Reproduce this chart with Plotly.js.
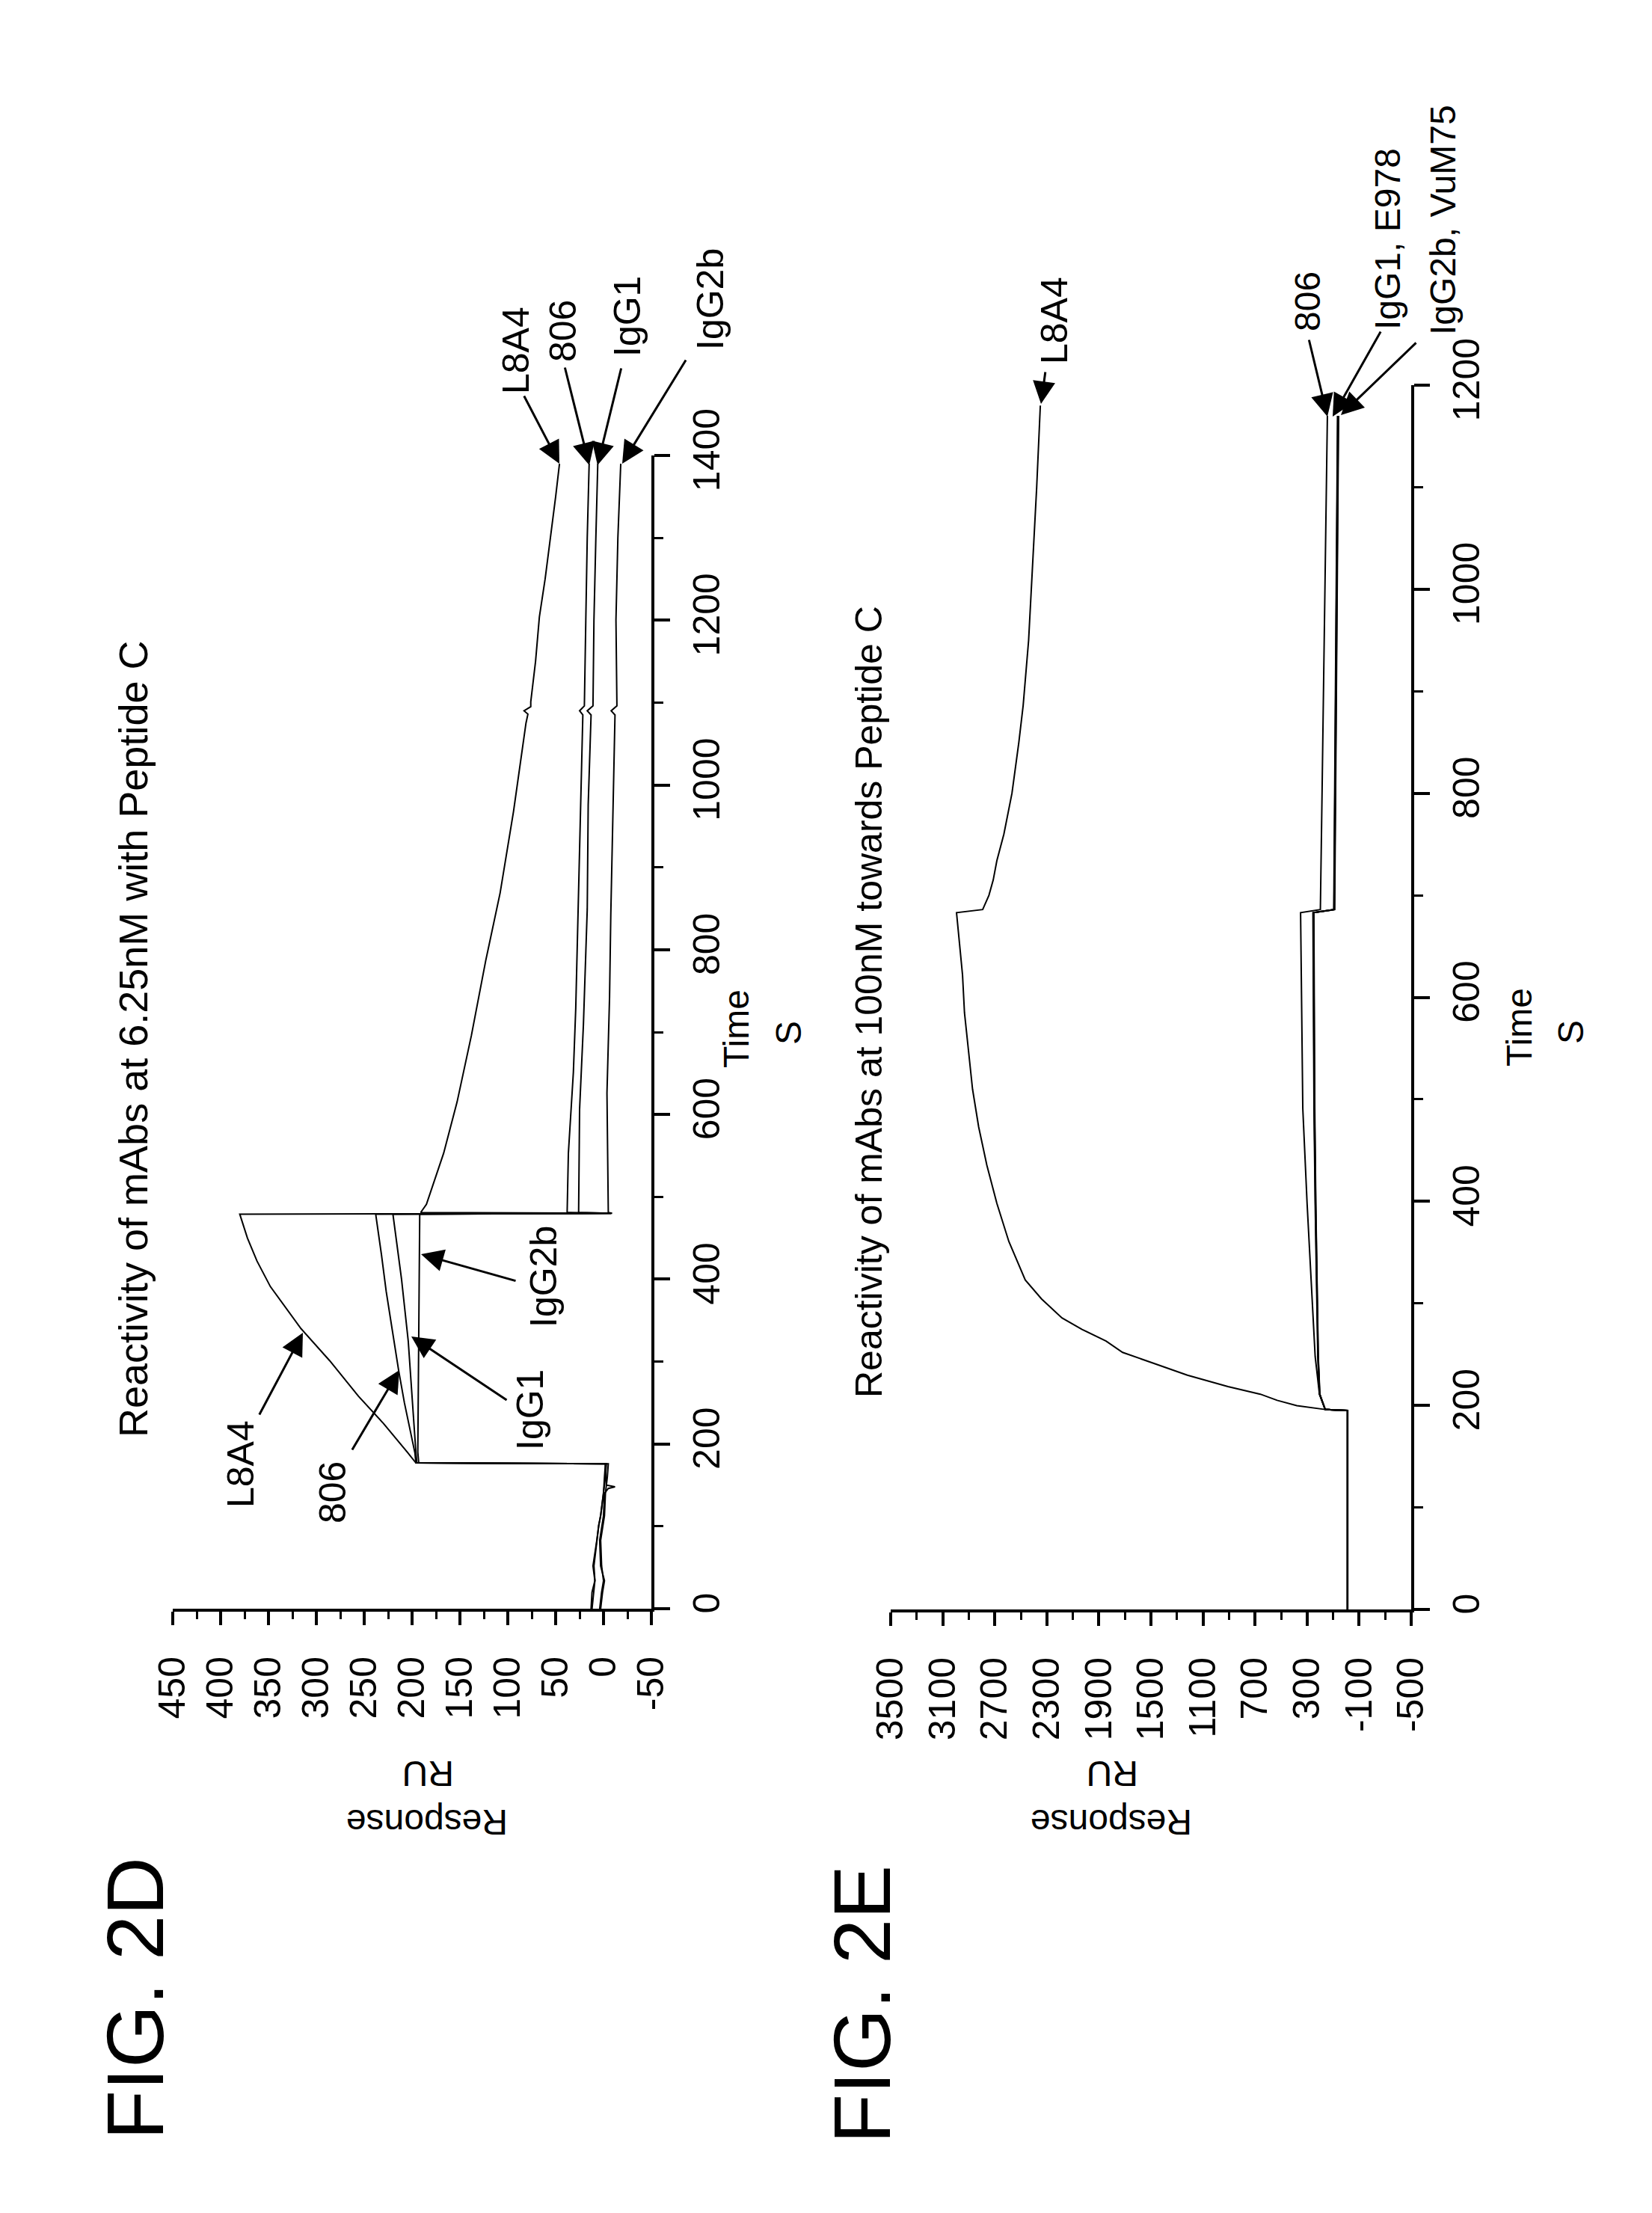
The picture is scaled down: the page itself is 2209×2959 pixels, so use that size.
<!DOCTYPE html>
<html><head><meta charset="utf-8">
<script src="https://cdn.plot.ly/plotly-3.0.1.min.js"></script>
<style>html,body{margin:0;padding:0;background:#fff;}#chart{width:2209px;height:2959px;}</style>
</head><body><div id="chart"></div>
<script>
// ---------- FIG. 2D : Reactivity of mAbs at 6.25nM with Peptide C ----------
const D_TIME_L8A4 = [0,20,34,52,83,101,113,140,160,176,177,190,225,258,301,340,391,422,450,479,480,481,491,553,615,696,787,869,968,1075,1086,1090,1095,1101,1150,1204,1250,1302,1350,1390];
const D_RU_L8A4   = [13,12,9,11,7,5,3,0,-1,-2,196,205,230,256,286,316,348,362,372,380,-8,191,185,167,153,138,123,108,94,81,79,83,76,76,71,67,61,55,50,46];
const D_TIME_806 = [0,20,34,52,83,101,113,140,160,176,177,189,250,289,340,385,430,479,480,481,553,651,729,857,968,1085,1090,1096,1200,1300,1390];
const D_RU_806   = [12,10,9,10,7,5,3,0,-2,-3,196,197,208,214,221,227,232,238,-8,38,36.7,31.5,29,26.3,23.7,21.6,25,20,18.5,17,15];
const D_TIME_IGG1 = [0,20,34,52,83,113,140,146,148,150,176,177,190,260,325,400,479,480,481,606,709,849,976,1085,1090,1096,1200,1300,1390];
const D_RU_IGG1   = [3,1,-1,3,4,0,-1,-5,-12,-3,-2,195,196,200,204,211,220,-8,26,25,21,17,16,13,17,11,10,8,6];
const D_TIME_IGG2B = [0,20,34,52,83,113,140,160,176,177,190,330,479,480,481,626,742,842,968,1085,1090,1096,1200,1300,1390];
const D_RU_IGG2B   = [4,2,0,2,3,-1,-2,-4,-5,193,194,193,192,-9,-5,-3.6,-6.3,-7.6,-10,-12,-8,-14,-13,-15,-18];
const D_RU_TICKVALS  = [450,400,350,300,250,200,150,100,50,0,-50];
const D_RU_TICKTEXT  = ['450','400','350','300','250','200','150','100','50','0','-50'];
const D_TIME_TICKVALS = [0,200,400,600,800,1000,1200,1400];
const D_TIME_TICKTEXT = ['0','200','400','600','800','1000','1200','1400'];

// ---------- FIG. 2E : Reactivity of mAbs at 100nM towards Peptide C ----------
const E_TIME_L8A4 = [0,100,195,196,199.7,205,211,218.5,229.6,240.8,252,263,274.5,285.8,304.4,323,360.7,398,435.5,473,510,547.6,585,622,660,683,686,700,715,734,760,800,850,886,950,1024,1100,1163,1180];
const E_RU_L8A4   = [-10,-8,-10,161,379,530,659,908,1220,1469,1718,1845,2029,2184,2341,2466,2592,2684,2761,2824,2871,2902,2933,2948,2979,2994,2793,2745,2712,2684,2630,2568,2515,2482,2440,2408,2378,2356,2350];
const E_TIME_806 = [0,100,195,196,211,248,323,398,491,585,683,686,700,800,900,1000,1100,1170];
const E_RU_806   = [-10,-8,-10,161,205,238,270,300,333,341,350,198,196,185,174,163,153,144];
const E_TIME_LOW = [0,100,195,196,211,248,323,398,491,585,683,686,800,1000,1170];
const E_RU_IGG1  = [-10,-8,-10,161,205,218,230,238,247,250,255,95,88,76,66];
const E_RU_E978  = [-10,-9,-11,161,204,216,228,236,245,249,253,93,86,74,64];
const E_RU_IGG2B = [-12,-10,-12,161,203,215,226,234,243,247,250,90,82,70,60];
const E_RU_VUM75 = [-12,-10,-12,161,202,214,225,233,241,245,248,88,80,68,58];
const E_RU_TICKVALS  = [3500,3100,2700,2300,1900,1500,1100,700,300,-100,-500];
const E_RU_TICKTEXT  = ['3500','3100','2700','2300','1900','1500','1100','700','300','-100','-500'];
const E_TIME_TICKVALS = [0,200,400,600,800,1000,1200];
const E_TIME_TICKTEXT = ['0','200','400','600','800','1000','1200'];

// ---------- layout helpers ----------
const W = 2209, H = 2959;
const FONT = '"Liberation Sans",Arial,Helvetica,sans-serif';
const BLACK = '#000';

function line(t, r, xa, ya, name){
  return {type:'scatter', mode:'lines', x:r, y:t, xaxis:xa, yaxis:ya, name:name,
          line:{color:BLACK, width:2}, hoverinfo:'skip'};
}
const traces = [
  line(D_TIME_L8A4, D_RU_L8A4, 'x', 'y', 'L8A4'),
  line(D_TIME_806, D_RU_806, 'x', 'y', '806'),
  line(D_TIME_IGG1, D_RU_IGG1, 'x', 'y', 'IgG1'),
  line(D_TIME_IGG2B, D_RU_IGG2B, 'x', 'y', 'IgG2b'),
  line(E_TIME_L8A4, E_RU_L8A4, 'x2', 'y2', 'L8A4'),
  line(E_TIME_806, E_RU_806, 'x2', 'y2', '806'),
  line(E_TIME_LOW, E_RU_IGG1, 'x2', 'y2', 'IgG1'),
  line(E_TIME_LOW, E_RU_E978, 'x2', 'y2', 'E978'),
  line(E_TIME_LOW, E_RU_IGG2B, 'x2', 'y2', 'IgG2b'),
  line(E_TIME_LOW, E_RU_VUM75, 'x2', 'y2', 'VuM75')
];

function ruAxis(x0, x1, range, vals, text, minorStep, anchor){
  return {domain:[x0/W, x1/W], range:range, anchor:anchor, side:'bottom',
    tickmode:'array', tickvals:vals, ticktext:text,
    ticks:'outside', ticklen:18, tickwidth:4, tickcolor:BLACK,
    showline:true, linewidth:4, linecolor:BLACK, showgrid:false, zeroline:false,
    tickangle:-90, ticklabelstandoff:22,
    tickfont:{family:FONT, size:50, color:BLACK},
    minor:{ticks:'outside', ticklen:10, tickwidth:3, tickcolor:BLACK, tickmode:'linear', tick0:vals[vals.length-1], dtick:minorStep, showgrid:false},
    fixedrange:true};
}
function timeAxis(yBottom, yTop, range, vals, text, anchor){
  return {domain:[1-yBottom/H, 1-yTop/H], range:range, anchor:anchor, side:'right',
    tickmode:'array', tickvals:vals, ticktext:text,
    ticks:'outside', ticklen:21, tickwidth:4, tickcolor:BLACK,
    showline:true, linewidth:4, linecolor:BLACK, showgrid:false, zeroline:false,
    tickangle:-90, ticklabelstandoff:6,
    tickfont:{family:FONT, size:50, color:BLACK},
    minor:{ticks:'outside', ticklen:12, tickwidth:3, tickcolor:BLACK, tickmode:'linear', tick0:0, dtick:100, showgrid:false},
    fixedrange:true};
}

function label(text, cx, cy, size, angle){
  return {xref:'paper', yref:'paper', x:cx/W, y:1-cy/H, xanchor:'center', yanchor:'middle',
    text:text, textangle:angle, showarrow:false, font:{family:FONT, size:size, color:BLACK}};
}
function arrow(hx, hy, tx, ty){
  return {xref:'paper', yref:'paper', x:hx/W, y:1-hy/H, axref:'pixel', ayref:'pixel',
    ax:tx-hx, ay:ty-hy, text:'', showarrow:true, arrowhead:2, arrowsize:2, arrowwidth:3,
    arrowcolor:BLACK, standoff:0, startstandoff:0};
}

const annotations = [
  // figure labels
  label('FIG. 2D', 180, 2672, 108, -90),
  label('FIG. 2E', 1152, 2680, 108, -90),
  // chart titles
  label('Reactivity of mAbs at 6.25nM with Peptide C', 178, 1390, 54, -90),
  label('Reactivity of mAbs at 100nM towards Peptide C', 1162, 1340, 50, -90),
  // axis titles
  label('Time', 984, 1376, 48, -90),
  label('S', 1054, 1381, 48, -90),
  label('Time', 2031, 1374, 48, -90),
  label('S', 2100, 1380, 48, -90),
  label('Response', 571, 2437, 48, 180),
  label('RU', 573, 2372, 48, 180),
  label('Response', 1486, 2437, 48, 180),
  label('RU', 1488, 2372, 48, 180),
  // 2D curve labels
  label('L8A4', 322, 1958, 50, -90),
  label('806', 445, 1996, 50, -90),
  label('IgG1', 709, 1885, 50, -90),
  label('IgG2b', 727, 1707, 50, -90),
  label('L8A4', 690, 469, 50, -90),
  label('806', 753, 443, 50, -90),
  label('IgG1', 839, 423, 50, -90),
  label('IgG2b', 950, 400, 50, -90),
  // 2E curve labels
  label('L8A4', 1410, 429, 50, -90),
  label('806', 1748, 403, 48, -90),
  label('IgG1, E978', 1856, 320, 48, -90),
  label('IgG2b, VuM75', 1930, 294, 48, -90),
  // arrows 2D
  arrow(405, 1782, 346, 1893),
  arrow(534, 1832, 470, 1940),
  arrow(550, 1787, 679, 1873),
  arrow(563, 1677, 691, 1713),
  arrow(748, 620, 700, 528),
  arrow(788, 622, 755, 490),
  arrow(799, 622, 831, 491),
  arrow(832, 620, 918, 480),
  // arrows 2E
  arrow(1392, 540, 1398, 496),
  arrow(1775, 557, 1750, 453),
  arrow(1782, 557, 1847, 442),
  arrow(1793, 555, 1895, 457)
];

const layout = {
  width:W, height:H, margin:{l:0, r:0, t:0, b:0, pad:0},
  paper_bgcolor:'#fff', plot_bgcolor:'#fff', showlegend:false,
  xaxis: ruAxis(231, 871, [450, -50], D_RU_TICKVALS, D_RU_TICKTEXT, 25, 'y'),
  yaxis: timeAxis(2151, 609, [0, 1400], D_TIME_TICKVALS, D_TIME_TICKTEXT, 'x'),
  xaxis2: ruAxis(1191, 1887, [3500, -500], E_RU_TICKVALS, E_RU_TICKTEXT, 200, 'y2'),
  yaxis2: timeAxis(2152, 515, [0, 1200], E_TIME_TICKVALS, E_TIME_TICKTEXT, 'x2'),
  annotations: annotations
};

Plotly.newPlot('chart', traces, layout, {staticPlot:true, displayModeBar:false});
</script>
</body></html>
